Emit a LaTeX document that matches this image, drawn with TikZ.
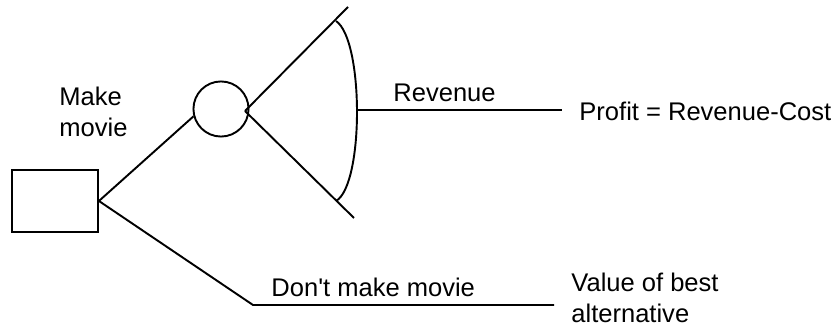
\documentclass[tikz,border=0pt]{standalone}
\usepackage{fontspec}
\setmainfont{Liberation Sans}
\usepackage{tikz}
\usetikzlibrary{positioning,calc}

\begin{document}
\begin{tikzpicture}[x=0.47pt,y=-0.47pt,
  decbox/.style={draw,line width=0.9pt,minimum width=40.4pt,minimum height=29.1pt,inner sep=0pt},
  chance/.style={draw,circle,line width=0.9pt,minimum size=25.9pt,inner sep=0pt},
  lbl/.style={font=\fontsize{12}{14.4}\selectfont,inner sep=0pt,align=left},
  br/.style={line width=0.9pt}]
  \useasboundingbox (0,0) rectangle (834,329);
  % ---- decision and chance nodes
  \node[decbox] (dec) at (55,201) {};
  \node[chance] (ch)  at (221,109) {};
  \node[lbl,anchor=north west] (make) at (59,87) {Make\\movie};
  % ---- fan of outcomes
  \coordinate (apex)   at (245,111);
  \coordinate (upEnd)  at (348,7);
  \coordinate (lowEnd) at (354,218);
  \coordinate (arcTop) at (336,21);
  \coordinate (arcBot) at (336,201);
  \coordinate (arcMid) at (357,110);
  \coordinate (revEnd) at (562,110);
  \draw[br] (dec.east) -- (ch.195);
  \draw[br] (apex) -- (upEnd);
  \draw[br] (apex) -- (lowEnd);
  \draw[br] (arcTop) .. controls (364,40) and (364,185) .. (arcBot);
  \draw[br] (arcMid) -- (revEnd);
  \node[lbl,anchor=base west] (rev) at (393,101.5) {Revenue};
  \node[lbl,anchor=west] (profit) at (579,111) {Profit = Revenue-Cost};
  % ---- the other choice
  \coordinate (kink)   at (253,305);
  \coordinate (altEnd) at (554,305);
  \draw[br] (dec.east) -- (kink) -- (altEnd);
  \node[lbl,anchor=base west] (dont) at (271,297) {Don\textquotesingle t make movie};
  \node[lbl,anchor=north west] (alt) at (571,273) {Value of best\\alternative};
\end{tikzpicture}
\end{document}
